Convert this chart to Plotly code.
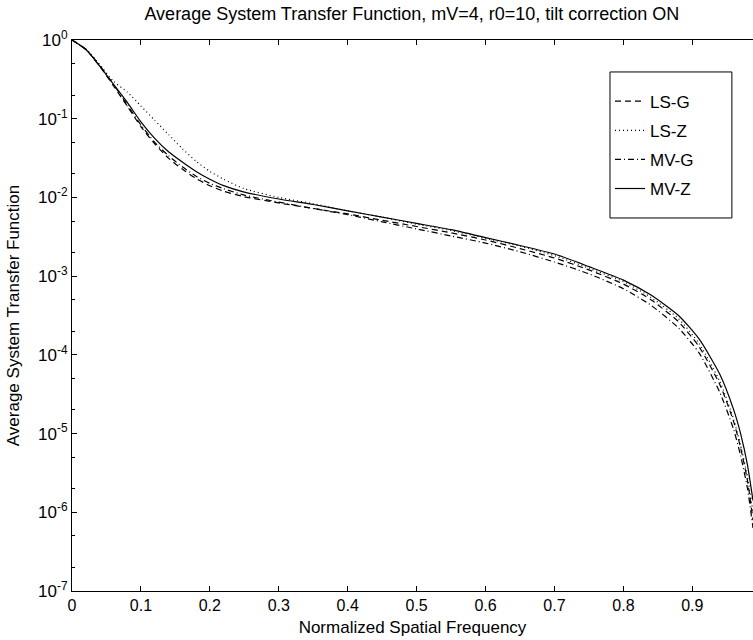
import plotly.graph_objects as go

freq = [0.0, 0.02, 0.04, 0.06, 0.08, 0.10, 0.12, 0.14, 0.16, 0.18, 0.20, 0.22, 0.25,
        0.30, 0.35, 0.40, 0.45, 0.50, 0.55, 0.60, 0.65, 0.70, 0.75, 0.80, 0.84, 0.88,
        0.91, 0.94, 0.96, 0.97, 0.98, 0.988]

ls_g = [1.0, 0.759, 0.468, 0.263, 0.145, 0.0794, 0.0479, 0.0316, 0.0229, 0.0174, 0.0141,
        0.0120, 0.0102, 0.00851, 0.00724, 0.00617, 0.00513, 0.00427, 0.00355, 0.00288,
        0.00224, 0.00170, 0.00120, 7.94e-4, 5.01e-4, 2.63e-4, 1.26e-4, 4.17e-5, 1.41e-5,
        6.61e-6, 2.51e-6, 7.94e-7]

ls_z = [1.0, 0.776, 0.490, 0.300, 0.219, 0.145, 0.0955, 0.0631, 0.0417, 0.0288, 0.0214,
        0.0170, 0.0129, 0.0100, 0.00832, 0.00676, 0.00562, 0.00457, 0.00380, 0.00302,
        0.00240, 0.00182, 0.00126, 8.51e-4, 5.37e-4, 2.88e-4, 1.38e-4, 4.57e-5, 1.51e-5,
        7.08e-6, 2.82e-6, 1.00e-6]

mv_g = [1.0, 0.759, 0.479, 0.275, 0.151, 0.0832, 0.0501, 0.0339, 0.0245, 0.0186, 0.0151,
        0.0129, 0.0107, 0.00871, 0.00724, 0.00603, 0.00490, 0.00398, 0.00324, 0.00263,
        0.00204, 0.00151, 0.00107, 6.92e-4, 4.27e-4, 2.19e-4, 1.05e-4, 3.31e-5, 1.12e-5,
        5.25e-6, 2.00e-6, 6.31e-7]

mv_z = [1.0, 0.759, 0.468, 0.275, 0.162, 0.0912, 0.0562, 0.0380, 0.0282, 0.0214, 0.0170,
        0.0141, 0.0117, 0.00955, 0.00813, 0.00676, 0.00562, 0.00468, 0.00389, 0.00309,
        0.00245, 0.00191, 0.00132, 8.91e-4, 5.75e-4, 3.16e-4, 1.58e-4, 5.62e-5, 2.00e-5,
        1.00e-5, 3.98e-6, 1.41e-6]

series_names = ["LS-G", "LS-Z", "MV-G", "MV-Z"]
x_tick_vals = [0, 0.1, 0.2, 0.3, 0.4, 0.5, 0.6, 0.7, 0.8, 0.9]
x_tick_text = ["0", "0.1", "0.2", "0.3", "0.4", "0.5", "0.6", "0.7", "0.8", "0.9"]
y_tick_vals = [1, 1e-1, 1e-2, 1e-3, 1e-4, 1e-5, 1e-6, 1e-7]
y_tick_text = ["10<sup>0</sup>", "10<sup>-1</sup>", "10<sup>-2</sup>", "10<sup>-3</sup>",
               "10<sup>-4</sup>", "10<sup>-5</sup>", "10<sup>-6</sup>", "10<sup>-7</sup>"]

FONT = "Liberation Sans, Arial, Helvetica, sans-serif"
dashes = ["6px,4px", "1px,3px", "6px,3px,1px,3px", "solid"]
data = [ls_g, ls_z, mv_g, mv_z]

fig = go.Figure()
for name, ys, d in zip(series_names, data, dashes):
    fig.add_trace(go.Scatter(x=freq, y=ys, mode="lines", name=name,
                             line=dict(color="black", width=1.2, dash=d, shape="spline",
                                       smoothing=0.6),
                             legendgroup=name))

# legend frame (paper coordinates)
fig.add_shape(type="rect", xref="paper", yref="paper", x0=0.790, x1=0.969,
              y0=0.677, y1=0.942, line=dict(color="black", width=1),
              fillcolor="white", layer="above")

fig.update_layout(
    width=753, height=640,
    margin=dict(l=72, r=0, t=40, b=49),
    paper_bgcolor="white", plot_bgcolor="white",
    font=dict(family=FONT, size=16, color="black"),
    title=dict(text="Average System Transfer Function, mV=4, r0=10, tilt correction ON",
               x=0.547, xanchor="center", y=1 - 14 / 640, yanchor="middle",
               font=dict(size=18, family=FONT)),
    legend=dict(x=0.79, y=0.942, xanchor="left", yanchor="top",
                borderwidth=0, bgcolor="rgba(0,0,0,0)",
                font=dict(size=17, family=FONT), tracegroupgap=4, itemwidth=30,
                title=dict(text="\u00a0", font=dict(size=9))),
    showlegend=True,
)
fig.update_xaxes(range=[0, 0.988], tickvals=x_tick_vals, ticktext=x_tick_text,
                 ticks="inside", ticklen=5, tickcolor="black", showline=True,
                 linecolor="black", linewidth=1, mirror="ticks", showgrid=False,
                 zeroline=False, tickfont=dict(size=16),
                 title=dict(text="Normalized Spatial Frequency", standoff=7,
                            font=dict(size=17)))
fig.update_yaxes(type="log", range=[-7, 0], tickvals=y_tick_vals, ticktext=y_tick_text,
                 ticks="inside", ticklen=5, tickcolor="black", showline=True,
                 linecolor="black", linewidth=1, mirror=False, showgrid=False,
                 zeroline=False, tickfont=dict(size=17),
                 minor=dict(ticks="inside", ticklen=3, tickcolor="black", showgrid=False),
                 title=dict(text="Average System Transfer Function", standoff=14,
                            font=dict(size=17)))

fig.write_html("out.html")
